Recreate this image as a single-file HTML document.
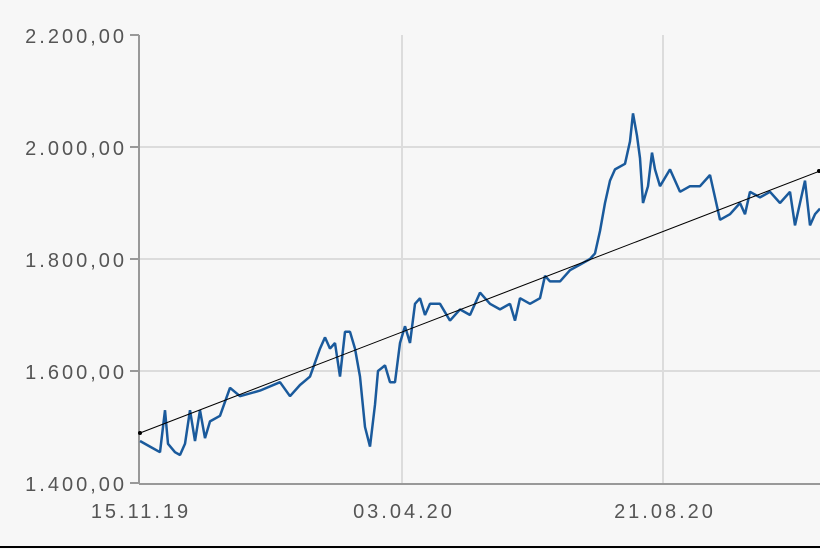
<!DOCTYPE html>
<html><head><style>
body{margin:0;background:#f7f7f7;}
svg{display:block;font-family:"Liberation Sans",sans-serif;}
text{fill:#555;font-size:20px;letter-spacing:3px;}
</style></head><body>
<svg width="820" height="549" viewBox="0 0 820 549">
<rect width="820" height="549" fill="#f7f7f7"/>
<g stroke="#dcdcdc" stroke-width="2">
<line x1="140" y1="147" x2="820" y2="147"/>
<line x1="140" y1="259" x2="820" y2="259"/>
<line x1="140" y1="371" x2="820" y2="371"/>
<line x1="402" y1="35" x2="402" y2="483"/>
<line x1="663" y1="35" x2="663" y2="483"/>
</g>
<g stroke="#999" stroke-width="2">
<line x1="139" y1="35" x2="139" y2="484"/>
<line x1="139" y1="484" x2="820" y2="484"/>
<line x1="130" y1="35" x2="139" y2="35"/>
<line x1="130" y1="147" x2="139" y2="147"/>
<line x1="130" y1="259" x2="139" y2="259"/>
<line x1="130" y1="371" x2="139" y2="371"/>
<line x1="130" y1="483" x2="139" y2="483"/>
</g>
<g text-anchor="end">
<text x="127" y="43">2.200,00</text>
<text x="127" y="155">2.000,00</text>
<text x="127" y="267">1.800,00</text>
<text x="127" y="379">1.600,00</text>
<text x="127" y="491">1.400,00</text>
</g>
<g text-anchor="middle">
<text x="141" y="518">15.11.19</text>
<text x="404" y="518">03.04.20</text>
<text x="665" y="518">21.08.20</text>
</g>
<g transform="translate(0,483) scale(1,-0.56)">
<polyline fill="none" stroke="#1a5a9c" stroke-width="2.5" vector-effect="non-scaling-stroke" stroke-linejoin="bevel" points="140,75 150,65 160,55 165,130 168,70 175,55 180,50 185,70 190,130 195,75 200,130 205,80 210,110 220,120 230,170 240,155 260,165 280,180 290,155 300,175 310,190 320,240 325,260 330,240 335,250 340,190 345,270 350,270 355,240 360,190 365,100 370,65 375,140 378,200 385,210 390,180 395,180 400,250 405,280 410,250 415,320 420,330 425,300 430,320 440,320 450,290 460,310 470,300 480,340 490,320 500,310 510,320 515,290 520,330 530,320 540,330 545,370 550,360 560,360 570,380 580,390 590,400 595,410 600,450 605,500 610,540 615,560 625,570 630,610 633,660 637,620 640,580 643,500 648,530 652,590 655,560 660,530 670,560 680,520 690,530 700,530 710,550 715,510 720,470 730,480 740,500 745,480 750,520 760,510 770,520 780,500 790,520 795,460 800,500 805,540 810,460 815,480 820,490"/>
</g>
<line x1="140" y1="433" x2="820" y2="171" stroke="#000" stroke-width="1"/>
<circle cx="140" cy="433" r="2" fill="#000"/>
<circle cx="819" cy="171" r="2" fill="#000"/>
<line x1="0" y1="547" x2="820" y2="547" stroke="#000" stroke-width="2"/>
</svg>
</body></html>
